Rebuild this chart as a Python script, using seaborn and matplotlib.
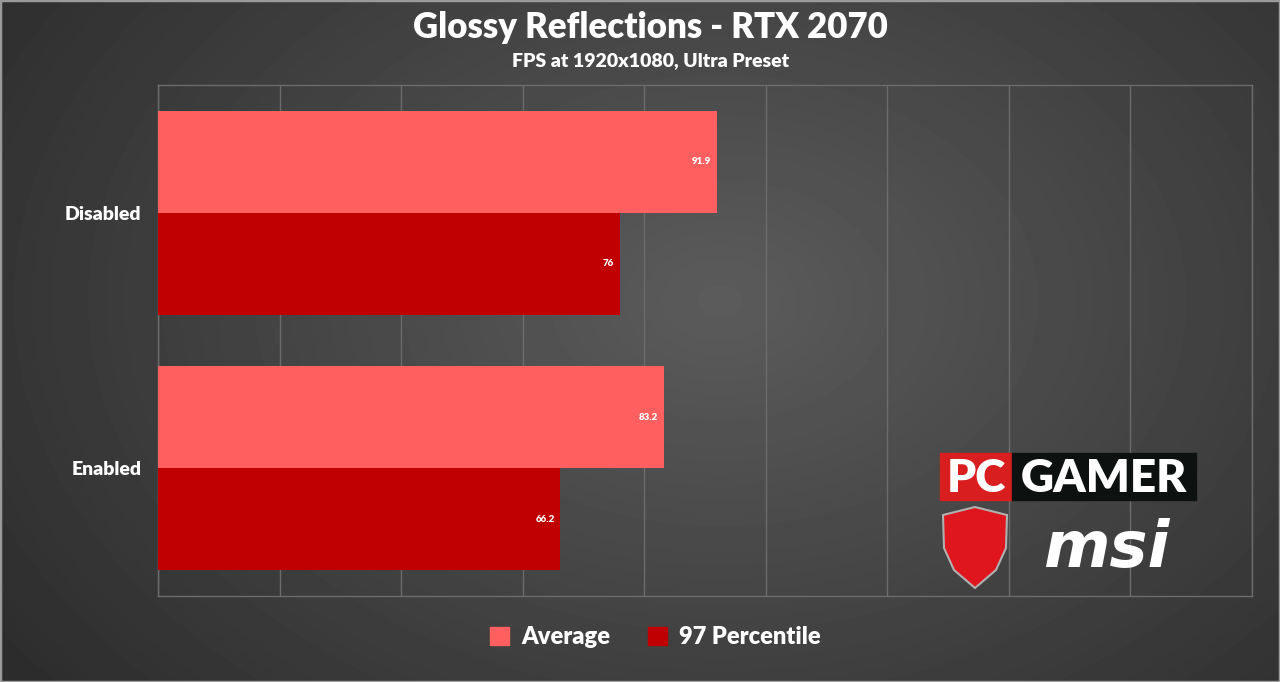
import numpy as np
import pandas as pd
import seaborn as sns
from matplotlib import pyplot as plt
from matplotlib.patches import Rectangle, Polygon

sns.set_style("white")
plt.rcParams['font.family'] = ['Lato', 'DejaVu Sans']

# ---------------- data
settings = ["Disabled", "Enabled"]
avg_fps = [91.9, 83.2]
p97_fps = [76, 66.2]
series = ["Average", "97 Percentile"]
colors = ["#FF5F5F", "#C00000"]

df = pd.DataFrame({
    "setting": settings * 2,
    "fps": avg_fps + p97_fps,
    "metric": [series[0]] * len(settings) + [series[1]] * len(settings),
})

# ---------------- figure + radial background
fh = plt.figure(figsize=(12.8, 6.82), dpi=100)
bg = fh.add_axes([0, 0, 1, 1], zorder=-10)
yy, xx = np.mgrid[0:682, 0:1280]
r = np.sqrt(((xx - 720) / 1280.0) ** 2 + ((yy - 300) / 682.0 * 0.75) ** 2)
shade = np.clip(0.36 - 0.27 * r, 0.15, 0.36)
bg.imshow(shade, cmap="gray", vmin=0, vmax=1, aspect="auto", extent=[0, 1, 0, 1])
bg.set_xlim(0, 1)
bg.set_ylim(0, 1)
bg.axis("off")
bg.add_patch(Rectangle((0, 0), 1, 1, fill=False, edgecolor="#9a9a9a", lw=2.5,
                       transform=bg.transAxes))

# ---------------- bars
ah = fh.add_axes([158 / 1280, 86 / 682, 1094 / 1280, 511 / 682])
ah.set_facecolor("none")
sns.barplot(data=df, x="fps", y="setting", hue="metric", orient="h",
            palette=colors, saturation=1, width=0.8, legend=False, ax=ah,
            linewidth=0, edgecolor="none", zorder=3)
ah.set_xlim(0, 180)
ah.set_ylim(1.5, -0.5)
ah.set_xticks(np.arange(0, 181, 20))
ah.grid(axis="x", color="#6c6c6c", lw=1, zorder=0)
ah.set_axisbelow(True)
for s in ah.spines.values():
    s.set_color("#6c6c6c")
    s.set_linewidth(1)
ah.tick_params(axis="x", length=0, labelbottom=False)
ah.tick_params(axis="y", length=0, pad=12)
ah.set_xlabel("")
ah.set_ylabel("")
for lab in ah.get_yticklabels():
    lab.set_color("white")
    lab.set_fontsize(14)
    lab.set_fontweight("heavy")

for cont in ah.containers:
    txts = ah.bar_label(cont, fmt="%g", padding=-4, color="white",
                        fontsize=7, fontweight="heavy")
    for t in txts:
        t.set_ha("right")

# ---------------- titles
fh.text(0.508, 1 - 28 / 682, "Glossy Reflections - RTX 2070", ha="center",
        va="center", color="white", fontsize=25, fontweight="heavy")
fh.text(0.508, 1 - 61 / 682, "FPS at 1920x1080, Ultra Preset", ha="center",
        va="center", color="white", fontsize=14, fontweight="heavy")

# ---------------- legend
handles = [Rectangle((0, 0), 1, 1, color=c) for c in colors]
fh.legend(handles, series, loc="center", bbox_to_anchor=(0.512, 1 - 637 / 682),
          ncol=2, frameon=False, handlelength=0.8, handleheight=0.8,
          handletextpad=0.5, columnspacing=1.6,
          prop={"size": 17, "weight": "heavy"}, labelcolor="white")

# ---------------- logos
def fx(px):
    return px / 1280.0

def fy(py):
    return 1 - py / 682.0

fh.patches.append(Rectangle((fx(940), fy(500)), fx(72), 47 / 682,
                            color="#d81e1e", transform=fh.transFigure))
fh.patches.append(Rectangle((fx(1012), fy(500)), fx(184), 47 / 682,
                            color="#0d1210", transform=fh.transFigure))
fh.text(fx(976), fy(478), "PC", ha="center", va="center", color="white",
        fontsize=33, fontweight="heavy")
fh.text(fx(1104), fy(478), "GAMER", ha="center", va="center", color="white",
        fontsize=33, fontweight="heavy")
shield = [(943, 515), (975, 507), (1007, 515), (1006, 548), (996, 570),
          (975, 588), (954, 570), (944, 548)]
fh.patches.append(Polygon([(fx(a), fy(b)) for a, b in shield], closed=True,
                          facecolor="#e0161e", edgecolor="#b0b0b0", lw=1.5,
                          transform=fh.transFigure))
fh.text(fx(1106), fy(549), "msi", ha="center", va="center", color="white",
        fontsize=46, fontweight="bold", style="italic", family="DejaVu Sans")

fh.savefig("out.png", dpi=100)
